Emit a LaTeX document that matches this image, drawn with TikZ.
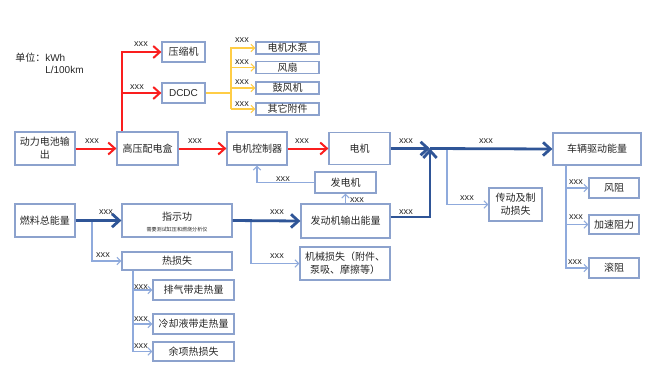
\documentclass[tikz,border=0pt]{standalone}
\usepackage{fontspec}
\setmainfont{Liberation Sans}
\newfontfamily\cjk{Noto Sans CJK SC}
\usetikzlibrary{arrows.meta}
\definecolor{boxc}{RGB}{140,162,205}
\definecolor{redc}{RGB}{250,30,30}
\definecolor{bluec}{RGB}{47,85,151}
\definecolor{thinb}{RGB}{143,170,220}
\definecolor{yelc}{RGB}{255,205,70}
\tikzset{
  box/.style={draw=boxc, line width=0.9pt, fill=white, inner sep=1pt, align=center,
    font=\fontsize{7.5}{9.5}\selectfont\cjk, text=black!85},
  bx/.style 2 args={minimum width={#1*0.75pt}, minimum height={#2*0.75pt}},
  lbl/.style={font=\fontsize{6.8}{8}\selectfont, inner sep=0pt, text=black!85},
  redl/.style={draw=redc, line width=1.5pt, -{Straight Barb[length=5pt,width=9pt,line width=1.5pt]}},
  bluel/.style={draw=bluec, line width=2.1pt, -{Straight Barb[length=5.5pt,width=10pt,line width=2.1pt]}},
  thinl/.style={draw=thinb, line width=0.8pt, -{Straight Barb[length=2.8pt,width=5.5pt,line width=0.8pt]}},
  yell/.style={draw=yelc, line width=0.8pt, -{Straight Barb[length=2.8pt,width=5.5pt,line width=0.8pt]}},
  yelp/.style={draw=yelc, line width=0.8pt},
}
\begin{document}
\begin{tikzpicture}[x=0.75pt,y=-0.75pt]
\useasboundingbox (0,0) rectangle (668,387);
\fill[white] (0,0) rectangle (668,387);

% units
\node[lbl, anchor=west, font=\fontsize{7.5}{9}\selectfont] (u1) at (15,58) {{\cjk 单位：}kWh};
\node[lbl, anchor=west, font=\fontsize{7.5}{9}\selectfont] (u2) at (45,70) {L/100km};

% boxes
\node[box,bx={43}{20}] (ys) at (183.5,52) {压缩机};
\node[box,bx={43}{20},font=\fontsize{7.5}{9}\selectfont] (dcdc) at (183.5,93) {DCDC};
\node[box,bx={63}{12}] (pump) at (287.5,48) {电机水泵};
\node[box,bx={63}{12}] (fan) at (287.5,67.5) {风扇};
\node[box,bx={63}{12}] (blow) at (287.5,88) {鼓风机};
\node[box,bx={63}{12}] (other) at (287.5,109) {其它附件};

\node[box,bx={60}{33}] (batt) at (45,148.5) {动力电池输\\出};
\node[box,bx={61}{33}] (hv) at (147.5,148.5) {高压配电盒};
\node[box,bx={60}{33}] (mc) at (257,148.5) {电机控制器};
\node[box,bx={61}{32}] (motor) at (359.5,148.5) {电机};
\node[box,bx={61}{21}] (gen) at (345.5,182.5) {发电机};

\node[box,bx={60}{33}] (fuel) at (45,220.5) {燃料总能量};
\node[box,bx={110}{33}] (ind) at (177,220.5) {};
\node[lbl,font=\fontsize{7.5}{9}\selectfont\cjk] (indt) at (177,217) {指示功};
\node[lbl,font=\fontsize{3.8}{4.5}\selectfont\cjk] (inds) at (177,229.5) {需要测试缸压和燃烧分析仪};
\node[box,bx={89}{34}] (eng) at (345.5,221) {发动机输出能量};
\node[box,bx={90}{33}] (mech) at (345,263.5) {机械损失（附件、\\泵吸、摩擦等）};
\node[box,bx={110}{18}] (heat) at (177,261) {热损失};
\node[box,bx={81}{20}] (exh) at (193.5,290) {排气带走热量};
\node[box,bx={81}{20}] (cool) at (193.5,324) {冷却液带走热量};
\node[box,bx={81}{19}] (rest) at (193.5,351.5) {余项热损失};

\node[box,bx={53}{33}] (trans) at (515.5,204.5) {传动及制\\动损失};
\node[box,bx={88}{32}] (veh) at (597,149) {车辆驱动能量};
\node[box,bx={50}{20}] (wind) at (614,188) {风阻};
\node[box,bx={50}{19}] (acc) at (614,224.5) {加速阻力};
\node[box,bx={50}{20}] (roll) at (614,268) {滚阻};

% coordinates
\coordinate (rv) at (122,52);
\coordinate (yv) at (231,48);
\coordinate (jn) at (430,148.5);
\coordinate (hb) at (92,220.5);
\coordinate (mb) at (251,220.5);
\coordinate (hx) at (133,351);
\coordinate (tx) at (447,148.5);
\coordinate (vx) at (566,268);

% red
\draw[redl] (hv.north -| rv) |- (ys.west);
\draw[redl] (rv |- dcdc.west) -- (dcdc.west);
\draw[redl] (batt.east) -- (hv.west);
\draw[redl] (hv.east) -- (mc.west);
\draw[redl] (mc.east) -- (motor.west);

% yellow
\draw[yelp] (dcdc.east) -- (dcdc.east -| yv);
\draw[yell] (yv |- other.west) |- (pump.west);
\draw[yell] (yv |- fan.west) -- (fan.west);
\draw[yell] (yv |- blow.west) -- (blow.west);
\draw[yell] (yv |- other.west) -- (other.west);

% thin blue
\draw[thinl] (hb) |- (heat.west);
\draw[thinl] (mb) |- (mech.west);
\draw[thinl] (heat.south -| hx) |- (rest.west);
\draw[thinl] (hx |- exh.west) -- (exh.west);
\draw[thinl] (hx |- cool.west) -- (cool.west);
\draw[thinl] (gen.west) -| (mc.south);
\draw[thinl] (eng.north) -- (gen.south);
\draw[thinl] (tx) |- (trans.west);
\draw[thinl] (veh.south -| vx) |- (roll.west);
\draw[thinl] (vx |- wind.west) -- (wind.west);
\draw[thinl] (vx |- acc.west) -- (acc.west);

% thick blue
\draw[bluel] (fuel.east) -- (ind.west);
\draw[bluel] (ind.east) -- (eng.west);
\draw[bluel] (motor.east) -- (jn);
\draw[bluel] ([yshift=3pt]eng.east) -| (jn);
\draw[bluel] (jn) -- (veh.west);

% labels
\node[lbl] (l1) at (141,44) {xxx};
\node[lbl] (l2) at (137,87) {xxx};
\node[lbl] (l3) at (242,40) {xxx};
\node[lbl] (l4) at (242,62) {xxx};
\node[lbl] (l5) at (242,82) {xxx};
\node[lbl] (l6) at (242,104) {xxx};
\node[lbl] (l7) at (92,141) {xxx};
\node[lbl] (l8) at (195,141) {xxx};
\node[lbl] (l9) at (302,141) {xxx};
\node[lbl] (l10) at (283,179) {xxx};
\node[lbl] (l11) at (106,212) {xxx};
\node[lbl] (l12) at (277,212) {xxx};
\node[lbl] (l13) at (103,255) {xxx};
\node[lbl] (l14) at (277,256) {xxx};
\node[lbl] (l15) at (141,287) {xxx};
\node[lbl] (l16) at (141,319) {xxx};
\node[lbl] (l17) at (141,346) {xxx};
\node[lbl] (l18) at (406,141) {xxx};
\node[lbl] (l19) at (486,141) {xxx};
\node[lbl] (l20) at (357,200) {xxx};
\node[lbl] (l21) at (406,212) {xxx};
\node[lbl] (l22) at (467,198) {xxx};
\node[lbl] (l23) at (576,182) {xxx};
\node[lbl] (l24) at (576,217) {xxx};
\node[lbl] (l25) at (575,262) {xxx};
\end{tikzpicture}
\end{document}
